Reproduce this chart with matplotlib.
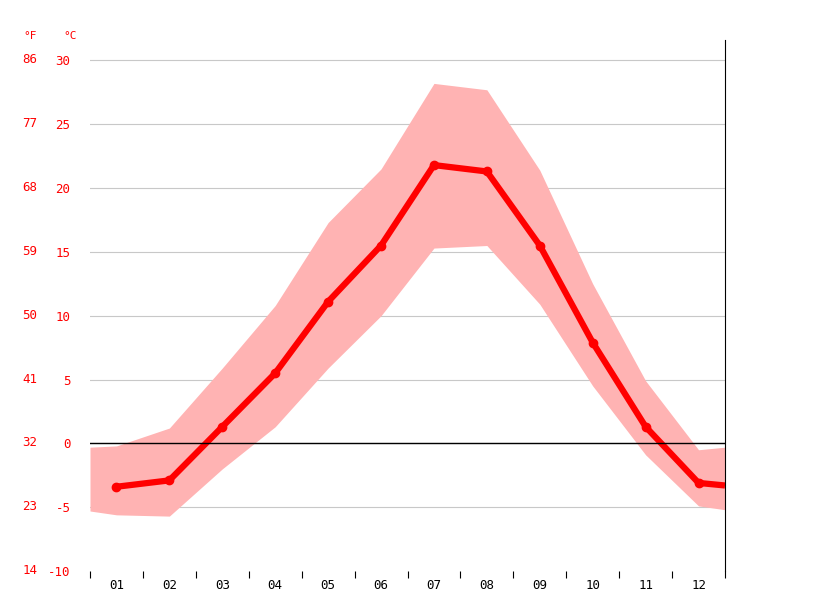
import numpy as np
import matplotlib.pyplot as plt

months = ['01', '02', '03', '04', '05', '06', '07', '08', '09', '10', '11', '12']
mean_c = [-3.4, -2.9, 1.3, 5.5, 11.1, 15.5, 21.8, 21.3, 15.5, 7.9, 1.3, -3.1]
# band edges incl. the plot borders (x = 0.5 and 12.5)
band_x = [0.5, 1, 2, 3, 4, 5, 6, 7, 8, 9, 10, 11, 12, 12.5]
upper_c = [-0.3, -0.2, 1.2, 5.9, 10.8, 17.3, 21.5, 28.2, 27.7, 21.4, 12.5, 4.9, -0.5, -0.3]
lower_c = [-5.3, -5.6, -5.7, -2.0, 1.3, 5.9, 10.0, 15.3, 15.5, 10.9, 4.5, -0.9, -4.9, -5.2]
mean_edge = [-3.3]  # value at right border
c_ticks = [-10, -5, 0, 5, 10, 15, 20, 25, 30]
f_ticks = [14, 23, 32, 41, 50, 59, 68, 77, 86]

fig = plt.figure(figsize=(8.15, 6.11), dpi=100)
ax = fig.add_axes([90/815, 40/611, 635/815, 531/611])
x = np.arange(1, 13)

ax.fill_between(band_x, lower_c, upper_c, color='#ffb3b3', lw=0)
ax.plot(list(x) + [12.5], mean_c + mean_edge, color='#ff0000', lw=4.5, solid_capstyle='butt')
ax.plot(x, mean_c, 'o', color='#ff0000', ms=6)

for c in c_ticks[1:]:
    ax.axhline(c, color='#c8c8c8', lw=0.8, zorder=0)
ax.axhline(0, color='black', lw=1)

ax.set_xlim(0.5, 12.5)
ax.set_ylim(-10, 31.6)
for s in ['top', 'left', 'bottom']:
    ax.spines[s].set_visible(False)
ax.spines['right'].set_color('black')

ax.set_xticks(np.arange(0.5, 13, 1))
ax.set_xticklabels([])
ax.set_xticks(x, minor=True)
ax.set_xticklabels(months, minor=True, fontsize=9, family='DejaVu Sans Mono')
ax.tick_params(axis='x', which='major', length=5, color='black')
ax.tick_params(axis='x', which='minor', length=0, pad=6)

ax.set_yticks(c_ticks)
ax.set_yticklabels([str(c) for c in c_ticks], color='#ff0000', fontsize=9, family='DejaVu Sans Mono')
ax.tick_params(axis='y', length=0, pad=14)
for c, f in zip(c_ticks, f_ticks):
    ax.text(-0.0, c, '', transform=ax.get_yaxis_transform())
    fig.text(30/815, 1 - (443 - c * 12.78) / 611, str(f), color='#ff0000', fontsize=9,
             family='DejaVu Sans Mono', ha='center', va='center')
fig.text(30/815, 1 - 36/611, '°F', color='#ff0000', fontsize=8, family='DejaVu Sans Mono', ha='center', va='center')
fig.text(70/815, 1 - 36/611, '°C', color='#ff0000', fontsize=8, family='DejaVu Sans Mono', ha='center', va='center')

fig.savefig('out.png', dpi=100)
